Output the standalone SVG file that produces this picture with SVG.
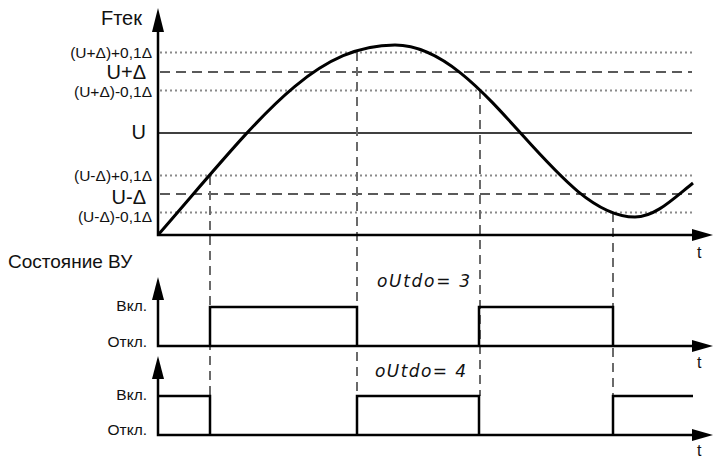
<svg xmlns="http://www.w3.org/2000/svg" width="713" height="460" viewBox="0 0 713 460">
<style>
text{font-family:"Liberation Sans",Arial,sans-serif;fill:#111}
.ax{stroke:#000;stroke-width:2.5;fill:none}
.dot{stroke:#8a8a8a;stroke-width:2;stroke-dasharray:2 3;fill:none}
.dsh{stroke:#5a5a5a;stroke-width:2;stroke-dasharray:10 6;fill:none}
.vd{stroke:#6a6a6a;stroke-width:2;stroke-dasharray:9 6;fill:none}
.ah{fill:#000}
.pl{stroke:#000;stroke-width:2.5;fill:none;stroke-linejoin:miter}
.s{font-size:15.5px}
.m{font-size:20px}
.st{font-size:15.5px}
.seg{font-family:"DejaVu Sans",sans-serif;font-style:italic;font-size:17px}
</style>
<g id="levels">
<line class="dot" x1="160" y1="52.5" x2="692" y2="52.5"/>
<line class="dsh" x1="160" y1="72" x2="692" y2="72"/>
<line class="dot" x1="160" y1="90.5" x2="692" y2="90.5"/>
<line x1="158" y1="133" x2="692" y2="133" stroke="#000" stroke-width="1.5"/>
<line class="dot" x1="160" y1="175.5" x2="692" y2="175.5"/>
<line class="dsh" x1="160" y1="194" x2="692" y2="194"/>
<line class="dot" x1="160" y1="212.5" x2="692" y2="212.5"/>
</g>
<g id="connectors">
<line class="vd" x1="210" y1="176" x2="210" y2="396"/>
<line class="vd" x1="357" y1="52" x2="357" y2="396"/>
<line class="vd" x1="480" y1="90" x2="480" y2="396"/>
<line class="vd" x1="613" y1="213" x2="613" y2="396"/>
</g>
<g id="curve">
<path d="M158,235 C258,120 312,45 395,45 C485,45 555,217 635,217 C655,217 673,199 693,183" fill="none" stroke="#000" stroke-width="3"/>
</g>
<g id="axis-top">
<polyline class="ax" points="158,28 158,235 695,235"/>
<polygon class="ah" points="158,8 152,32 164,32"/>
<polygon class="ah" points="713,235 692,229 692,241"/>
</g>
<g id="axis-mid">
<polyline class="ax" points="158,296 158,346 695,346"/>
<polygon class="ah" points="158,277 152,300 164,300"/>
<polygon class="ah" points="713,346 692,340 692,352"/>
</g>
<g id="axis-bot">
<polyline class="ax" points="158,375 158,435 695,435"/>
<polygon class="ah" points="158,356 152,379 164,379"/>
<polygon class="ah" points="713,435 692,429 692,441"/>
</g>
<g id="pulses-3">
<polyline class="pl" points="210,346 210,307 357,307 357,346"/>
<polyline class="pl" points="479,346 479,307 613,307 613,346"/>
</g>
<g id="pulses-4">
<polyline class="pl" points="158,396 210,396 210,435"/>
<polyline class="pl" points="357,435 357,396 479,396 479,435"/>
<polyline class="pl" points="613,435 613,396 693,396"/>
</g>
<g id="labels">
<text x="142" y="25" font-size="20" text-anchor="end">Fтек</text>
<text class="st" x="152" y="57.5" text-anchor="end">(U+Δ)+0,1Δ</text>
<text class="m" x="146" y="79" text-anchor="end">U+Δ</text>
<text class="st" x="152" y="96.5" text-anchor="end">(U+Δ)-0,1Δ</text>
<text class="m" x="146" y="139" text-anchor="end">U</text>
<text class="st" x="152" y="181" text-anchor="end">(U-Δ)+0,1Δ</text>
<text class="m" x="146" y="204" text-anchor="end">U-Δ</text>
<text class="st" x="152" y="222" text-anchor="end">(U-Δ)-0,1Δ</text>
<text x="8" y="268" font-size="19">Состояние ВУ</text>
<text class="s" x="147" y="311" text-anchor="end">Вкл.</text>
<text class="s" x="147" y="347" text-anchor="end">Откл.</text>
<text class="s" x="147" y="400" text-anchor="end">Вкл.</text>
<text class="s" x="147" y="435" text-anchor="end">Откл.</text>
<text x="697" y="258" font-size="16">t</text>
<text x="697" y="368" font-size="16">t</text>
<text x="697" y="456" font-size="16">t</text>
<text class="seg" x="377" y="287" textLength="93" lengthAdjust="spacing">oUtdo= 3</text>
<text class="seg" x="375" y="377" textLength="91" lengthAdjust="spacing">oUtdo= 4</text>
</g>
</svg>
